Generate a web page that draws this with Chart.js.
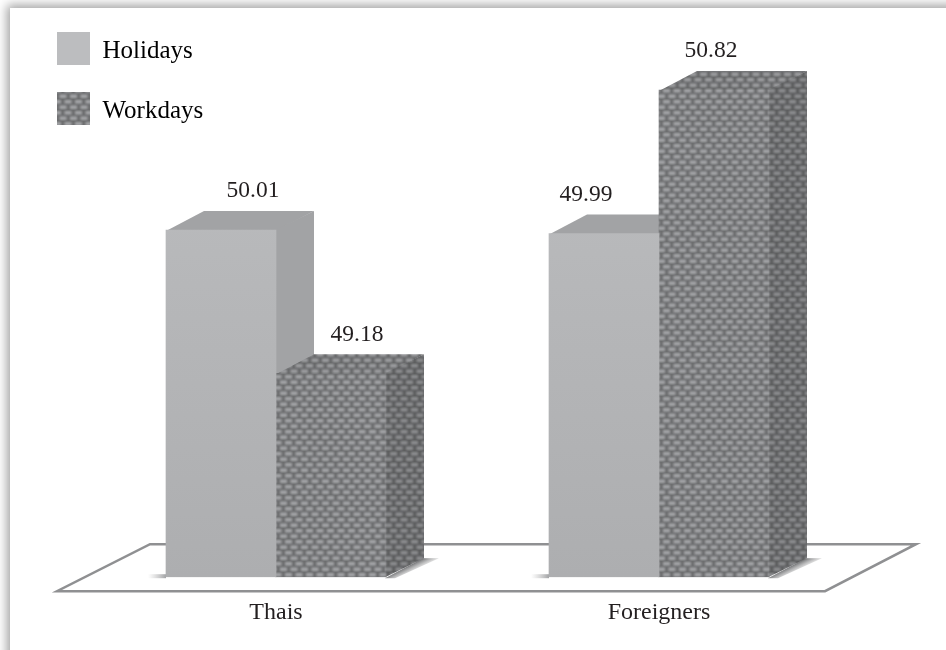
<!DOCTYPE html>
<html>
<head>
<meta charset="utf-8">
<title>Holidays and workdays</title>
<script src="https://cdn.jsdelivr.net/npm/chart.js@4/dist/chart.umd.min.js"></script>
<style>
  html, body { margin: 0; padding: 0; background: #fff; overflow: hidden; }
  #page { position: relative; width: 946px; height: 650px; overflow: hidden; }
  #panel { position: absolute; left: 10px; top: 8px; width: 1000px; height: 720px; background: #fff; box-shadow: 0 0 10px 3px #a0a0a0; }
  #chart { position: absolute; left: 0; top: 0; }
</style>
</head>
<body>
<div id="page">
  <div id="panel"></div>
  <canvas id="chart" width="946" height="650"></canvas>
</div>
<script>
const categories = ['Thais', 'Foreigners'];
const seriesNames = ['Holidays', 'Workdays'];
const holidays = [50.01, 49.99];
const workdays = [49.18, 50.82];

const fuente = '"Liberation Serif", serif';
const colorTexto = '#231f20';
const colorHolidays = '#bcbdbf';
const profX = 38;
const profY = 19;
// desplazamiento de cada etiqueta respecto al centro de su barra
const etiquetaDx = [[32, -18], [26, -3]];

function crearPatron() {
    const tile = document.createElement('canvas');
    tile.width = 21;
    tile.height = 11;
    const c = tile.getContext('2d');
    c.fillStyle = '#6b6c6e';
    c.fillRect(0, 0, 21, 11);
    c.filter = 'blur(0.8px)';
    c.fillStyle = '#a6a7a9';
    [[1.5, 1], [12, 1], [-3.5, 6.5], [7, 6.5], [17.5, 6.5]].forEach(([x, y]) => {
        c.fillRect(x, y, 7, 3.5);
    });
    return c.createPattern(tile, 'repeat');
}

const patron = crearPatron();

function caja(ctx, bar, relleno, sombra) {
    const izq = bar.x - bar.width / 2;
    const der = bar.x + bar.width / 2;
    const caras = [
        [[izq, bar.y + 1], [der, bar.y + 1], [der + profX, bar.y - profY], [izq + profX, bar.y - profY]],
        [[der - 1, bar.y], [der + profX, bar.y - profY], [der + profX, bar.base - profY], [der - 1, bar.base]]
    ];
    caras.forEach((cara, i) => {
        [relleno, sombra[i]].forEach(capa => {
            ctx.beginPath();
            cara.forEach(([x, y], n) => (n ? ctx.lineTo(x, y) : ctx.moveTo(x, y)));
            ctx.closePath();
            ctx.fillStyle = capa;
            ctx.fill();
        });
    });
}

const plugin3d = {
    id: 'plugin3d',
    afterLayout(chart) {
        const l = chart.legend;
        const w = l.right - l.left;
        const h = l.bottom - l.top;
        l.left = 30;
        l.top = 8;
        l.right = l.left + w;
        l.bottom = l.top + h;
    },
    beforeDatasetsDraw(chart) {
        const { ctx, chartArea: a } = chart;
        ctx.save();

        // piso
        const abajo = a.bottom + 14;
        const arriba = a.bottom - 33;
        ctx.beginPath();
        ctx.moveTo(a.left - 27.5, abajo);
        ctx.lineTo(a.right - 25.5, abajo);
        ctx.lineTo(a.right + 65.5, arriba);
        ctx.lineTo(a.left + 65.5, arriba);
        ctx.closePath();
        ctx.fillStyle = '#fff';
        ctx.fill();
        ctx.lineWidth = 2.5;
        ctx.lineJoin = 'miter';
        ctx.strokeStyle = '#8f9092';
        ctx.stroke();

        // sombra sobre el piso, perpendicular al borde inferior de la cara lateral
        const h = chart.getDatasetMeta(0).data;
        const t = chart.getDatasetMeta(1).data;
        h.forEach((bar, i) => {
            const izq = bar.x - bar.width / 2;
            const der = t[i].x + t[i].width / 2;
            const mx = der + profX / 2;
            const my = bar.base - profY / 2;
            const g = ctx.createLinearGradient(mx, my, mx + 4.5, my + 9);
            g.addColorStop(0, '#77787a');
            g.addColorStop(1, 'rgba(190,190,190,0)');
            ctx.beginPath();
            ctx.moveTo(der - 1, bar.base + 1);
            ctx.lineTo(der + profX - 1, bar.base - profY);
            ctx.lineTo(der + profX + 15, bar.base - profY);
            ctx.lineTo(der + 9, bar.base + 1);
            ctx.closePath();
            ctx.fillStyle = g;
            ctx.fill();
            const g2 = ctx.createLinearGradient(izq - 18, 0, izq, 0);
            g2.addColorStop(0, 'rgba(190,190,190,0)');
            g2.addColorStop(1, '#a2a3a5');
            ctx.fillStyle = g2;
            ctx.fillRect(izq - 18, bar.base - 3, 18, 4);
        });

        // caras superior y lateral de cada barra
        h.forEach(bar => caja(ctx, bar, '#a8a9ab', ['rgba(0,0,0,0.03)', 'rgba(0,0,0,0.03)']));
        t.forEach(bar => caja(ctx, bar, patron, ['rgba(0,0,0,0.04)', 'rgba(0,0,0,0.14)']));
        ctx.restore();
    },
    afterDatasetsDraw(chart) {
        const { ctx } = chart;
        ctx.save();
        ctx.font = '23.5px ' + fuente;
        ctx.fillStyle = colorTexto;
        ctx.textAlign = 'center';
        ctx.textBaseline = 'middle';
        chart.data.datasets.forEach((ds, d) => {
            chart.getDatasetMeta(d).data.forEach((bar, i) => {
                ctx.fillText(ds.data[i].toFixed(2), bar.x + etiquetaDx[d][i], bar.y - profY - 20);
            });
        });
        ctx.restore();
    },
    afterDraw(chart) {
        // cuadros de la leyenda, 3px arriba del centro del texto
        const { ctx, legend } = chart;
        const pad = legend.options.labels.padding;
        const lado = legend.options.labels.boxWidth;
        ctx.save();
        [colorHolidays, patron].forEach((relleno, i) => {
            ctx.fillStyle = relleno;
            ctx.fillRect(legend.left + pad, legend.top + pad - 3 + i * (lado + pad), lado, lado);
        });
        ctx.restore();
    }
};

new Chart(document.getElementById('chart'), {
    type: 'bar',
    data: {
        labels: categories,
        datasets: [
            {
                label: seriesNames[0],
                data: holidays,
                base: 48,
                backgroundColor(context) {
                    const a = context.chart.chartArea;
                    if (!a) return colorHolidays;
                    const g = context.chart.ctx.createLinearGradient(0, a.top, 0, a.bottom);
                    g.addColorStop(0, '#bdbec0');
                    g.addColorStop(1, '#adaeb0');
                    return g;
                }
            },
            { label: seriesNames[1], data: workdays, base: 48, backgroundColor: patron }
        ]
    },
    options: {
        responsive: false,
        animation: false,
        layout: { padding: { left: 84.5, right: 95.5, top: 59, bottom: 10 } },
        barThickness: 110,
        scales: {
            x: {
                grid: { display: false },
                border: { display: false },
                ticks: { color: colorTexto, font: { family: fuente, size: 24 }, padding: 13, maxRotation: 0 }
            },
            y: { display: false, min: 48, max: 51 }
        },
        plugins: {
            tooltip: { enabled: false },
            legend: {
                position: 'chartArea',
                align: 'start',
                labels: {
                    boxWidth: 33,
                    boxHeight: 33,
                    padding: 27,
                    color: colorTexto,
                    font: { family: fuente, size: 25 },
                    generateLabels() {
                        return seriesNames.map((text, datasetIndex) => ({
                            text, datasetIndex, fillStyle: 'rgba(0,0,0,0)', strokeStyle: 'rgba(0,0,0,0)', lineWidth: 0
                        }));
                    }
                }
            }
        }
    },
    plugins: [plugin3d]
});
</script>
</body>
</html>
